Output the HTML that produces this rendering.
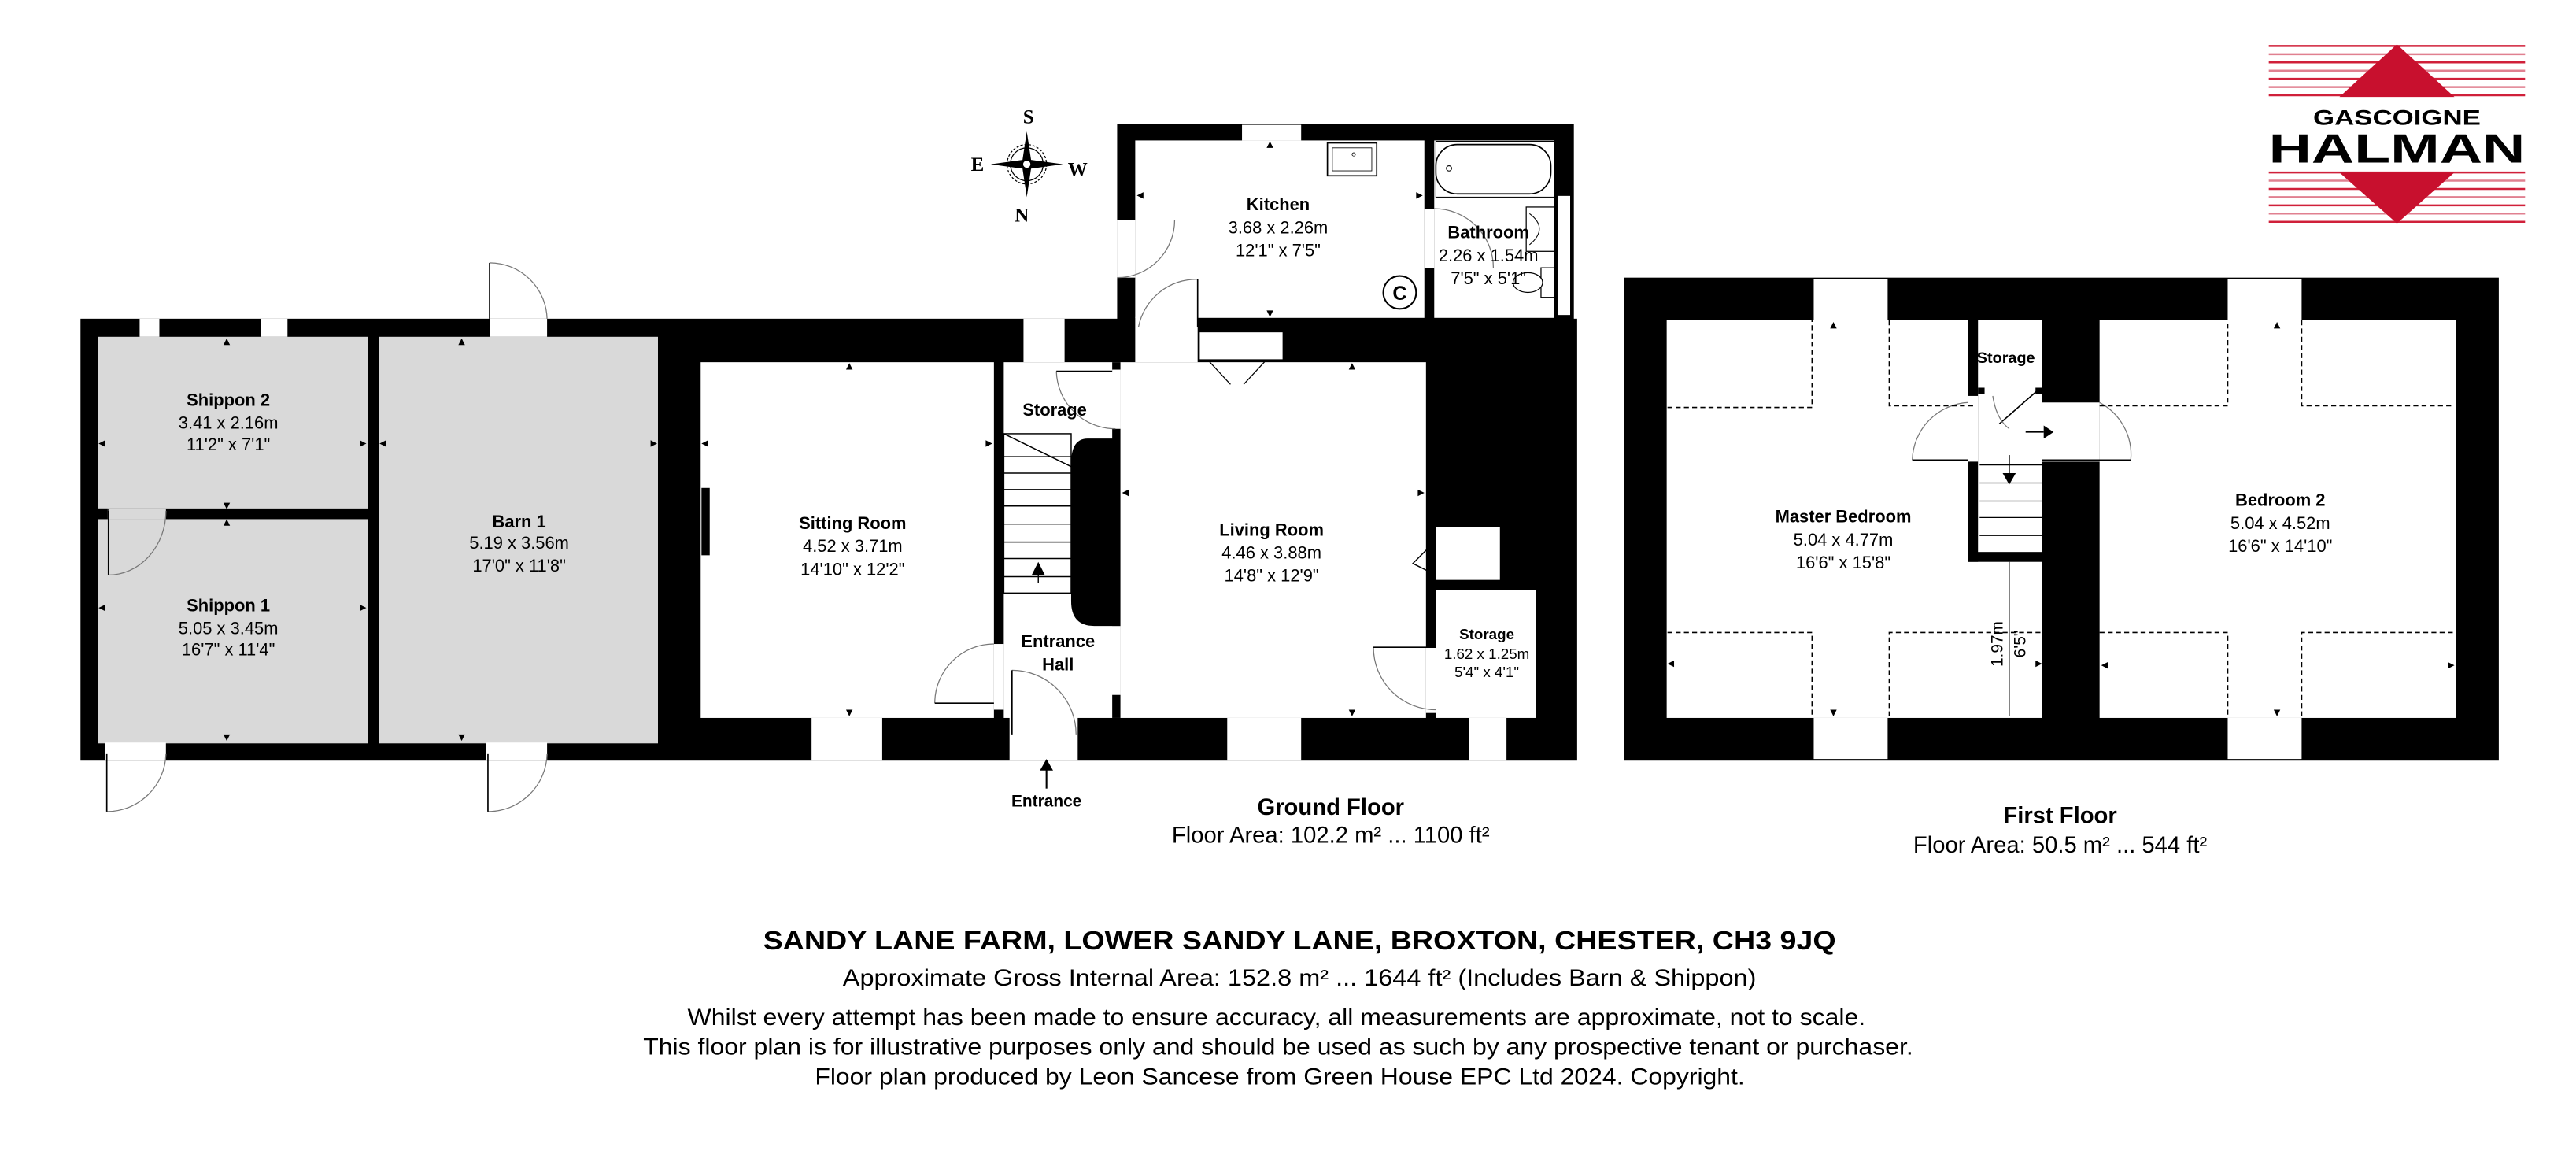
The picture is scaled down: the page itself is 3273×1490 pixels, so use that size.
<!DOCTYPE html>
<html><head><meta charset="utf-8"><style>
html,body{margin:0;padding:0;background:#fff;}
svg{display:block;}
text{font-family:"Liberation Sans",Arial,sans-serif;fill:#000;}
.n{font-weight:bold;font-size:10.5px;text-anchor:middle;}
.d{font-size:10.5px;text-anchor:middle;}
.s{font-size:9px;text-anchor:middle;}
.cp{font-family:"Liberation Serif",serif;font-weight:bold;font-size:12px;text-anchor:middle;}
.arc{fill:none;stroke:#777;stroke-width:0.6;}
.dash{fill:none;stroke:#000;stroke-width:0.8;stroke-dasharray:3,2;}
</style></head><body>
<svg width="3273" height="1490" viewBox="0 0 1568 714" preserveAspectRatio="none" xmlns="http://www.w3.org/2000/svg">
<rect width="1568" height="714" fill="#fff"/>

<!-- ===== GROUND FLOOR ===== -->
<rect x="49" y="194" width="911" height="269" fill="#000"/>
<rect x="680" y="75.5" width="278" height="125" fill="#000"/>
<rect x="59.5" y="205" width="164.5" height="104.5" fill="#d9d9d9"/>
<rect x="59.5" y="316" width="164.5" height="136.5" fill="#d9d9d9"/>
<rect x="230.5" y="205" width="170" height="247.5" fill="#d9d9d9"/>
<rect x="426.5" y="220.5" width="178.5" height="216.5" fill="#fff"/>
<rect x="427" y="297" width="5" height="41" fill="#000"/>
<rect x="611" y="220.5" width="71" height="216.5" fill="#fff"/>
<rect x="677" y="220.5" width="5" height="5" fill="#000"/>
<rect x="677" y="261" width="5" height="120" fill="#000"/>
<rect x="677" y="423" width="5" height="14" fill="#000"/>
<g stroke="#000" stroke-width="0.7" fill="none">
<rect x="611" y="264" width="41" height="97" fill="#fff"/>
<line x1="611" y1="278" x2="652" y2="278"/><line x1="611" y1="288" x2="652" y2="288"/>
<line x1="611" y1="298" x2="652" y2="298"/><line x1="611" y1="308" x2="652" y2="308"/>
<line x1="611" y1="319" x2="652" y2="319"/><line x1="611" y1="330" x2="652" y2="330"/>
<line x1="611" y1="340" x2="652" y2="340"/><line x1="611" y1="351" x2="652" y2="351"/>
<line x1="611" y1="264" x2="652" y2="284"/>
<line x1="632" y1="355" x2="632" y2="348"/>
</g>
<path d="M632 342 L628 350 L636 350 Z" fill="#000"/>
<path d="M662 267 L682 267 L682 381 L666 381 Q652 381 652 366 L652 282 Q652 267 662 267 Z" fill="#000"/>
<rect x="682" y="220.5" width="186" height="216.5" fill="#fff"/>
<rect x="730" y="202" width="51" height="17" fill="#fff" stroke="#000" stroke-width="0.6"/>
<path d="M736 220 L749 234 M757 234 L770 220" stroke="#000" stroke-width="0.6"/>
<rect x="874" y="321" width="39" height="32" fill="#fff"/>
<path d="M874 329 L860 343 L874 350" stroke="#000" stroke-width="0.7" fill="none"/>
<rect x="874" y="359" width="61" height="78" fill="#fff"/>
<rect x="868" y="394" width="6" height="40" fill="#fff"/>
<path class="arc" d="M836 394 A38 38 0 0 0 874 432"/>
<line x1="836" y1="394" x2="874" y2="394" stroke="#000" stroke-width="0.8"/>
<rect x="691" y="85.5" width="176" height="108" fill="#fff"/>
<rect x="873" y="85.5" width="73" height="108" fill="#fff"/>
<rect x="867" y="127" width="6" height="36" fill="#fff"/>
<path class="arc" d="M873 127 A36 36 0 0 1 909 163"/>
<rect x="948" y="119" width="8" height="73" fill="#fff" stroke="#000" stroke-width="0.5"/>
<rect x="756" y="76" width="36" height="9.5" fill="#fff"/>
<rect x="680" y="134" width="11" height="35" fill="#fff"/>
<path class="arc" d="M680 169 A35 35 0 0 0 715 134"/>
<rect x="691" y="193" width="38" height="27.5" fill="#fff"/>
<path class="arc" d="M693 199 A36 36 0 0 1 729 170 L729 199"/>
<line x1="729" y1="170" x2="729" y2="199" stroke="#000" stroke-width="0.8"/>
<rect x="808" y="87" width="30" height="20" fill="#fff" stroke="#000" stroke-width="0.8"/>
<rect x="811" y="90" width="24" height="14" fill="none" stroke="#000" stroke-width="0.4"/>
<circle cx="824" cy="94" r="1" fill="none" stroke="#000" stroke-width="0.4"/>
<rect x="874" y="88" width="70" height="30" rx="13" fill="#fff" stroke="#000" stroke-width="0.8"/>
<rect x="874" y="86" width="72" height="34" fill="none" stroke="#000" stroke-width="0.5"/>
<circle cx="882" cy="102.5" r="1.6" fill="none" stroke="#000" stroke-width="0.5"/>
<rect x="929" y="126" width="17" height="27" fill="#fff" stroke="#000" stroke-width="0.6"/>
<path d="M931 130 Q943 139 931 149" fill="none" stroke="#000" stroke-width="0.5"/>
<rect x="938" y="163" width="8" height="18" fill="#fff" stroke="#000" stroke-width="0.6"/>
<ellipse cx="930" cy="172" rx="9" ry="6" fill="#fff" stroke="#000" stroke-width="0.6"/>
<circle cx="852" cy="178" r="10" fill="#fff" stroke="#000" stroke-width="1"/>
<text x="852" y="182.5" font-size="12" font-weight="bold" text-anchor="middle">C</text>
<g fill="#fff">
<rect x="85" y="194" width="12" height="11"/>
<rect x="159" y="194" width="16" height="11"/>
<rect x="623" y="194" width="25" height="26.5"/>
<rect x="494" y="437" width="43" height="26"/>
<rect x="747" y="437" width="45" height="26"/>
<rect x="894" y="437" width="23" height="26"/>
<rect x="298" y="194" width="35" height="11"/>
<rect x="64" y="452" width="37" height="11"/>
<rect x="296" y="452" width="37" height="11"/>
<rect x="614.5" y="436" width="41.5" height="27"/>
<rect x="605" y="392" width="6" height="40"/>
<rect x="677" y="225" width="5" height="36"/>
</g>
<!-- shippon internal door -->
<rect x="59.5" y="309.5" width="6" height="7" fill="#d9d9d9"/>
<rect x="59.5" y="309.5" width="6" height="6.5" fill="#000"/>
<rect x="66" y="309.5" width="35" height="6.5" fill="#d9d9d9"/>
<line x1="66" y1="311" x2="66" y2="350" stroke="#000" stroke-width="0.8"/>
<path class="arc" d="M101 311 A35 39 0 0 1 66 350"/>
<path class="arc" d="M298 160 A35 35 0 0 1 333 194"/>
<line x1="298" y1="160" x2="298" y2="194" stroke="#000" stroke-width="0.8"/>
<path class="arc" d="M101 459 A36 36 0 0 1 65 494"/>
<line x1="65" y1="459" x2="65" y2="494" stroke="#000" stroke-width="0.8"/>
<path class="arc" d="M333 459 A36 36 0 0 1 297 494"/>
<line x1="297" y1="459" x2="297" y2="494" stroke="#000" stroke-width="0.8"/>
<path class="arc" d="M605 392 A36 36 0 0 0 569 428"/>
<line x1="569" y1="428" x2="605" y2="428" stroke="#000" stroke-width="0.8"/>
<path class="arc" d="M616 408 A39 39 0 0 1 655 447"/>
<line x1="616" y1="408" x2="616" y2="447" stroke="#000" stroke-width="0.8"/>
<path class="arc" d="M643 226 A36 36 0 0 0 679 261"/>
<line x1="643" y1="226" x2="677" y2="226" stroke="#000" stroke-width="0.8"/>
<line x1="637" y1="468" x2="637" y2="480" stroke="#000" stroke-width="1"/>
<path d="M637 462 L633 469 L641 469 Z" fill="#000"/>
<g transform="translate(625,100)">
<circle r="12" fill="none" stroke="#000" stroke-width="0.6" stroke-dasharray="1.5,1"/>
<circle r="10" fill="none" stroke="#000" stroke-width="0.6"/>
<path d="M0 -20 L3 0 L0 20 L-3 0 Z M-22 0 L0 -3 L22 0 L0 3 Z" fill="#000"/>
<circle r="2.5" fill="#fff" stroke="#000" stroke-width="0.6"/>
<text class="cp" x="1" y="-25">S</text>
<text class="cp" x="-30" y="4">E</text>
<text class="cp" x="31" y="7">W</text>
<text class="cp" x="-3" y="35">N</text>
</g>
<g fill="#000">
<path d="M138 206 l-2 4 h4z M138 451 l-2 -4 h4z M138 310 l-2 -4 h4z M138 316 l-2 4 h4z"/>
<path d="M60 270 l4 -2 v4z M223 270 l-4 -2 v4z M60 370 l4 -2 v4z M223 370 l-4 -2 v4z"/>
<path d="M281 206 l-2 4 h4z M281 451 l-2 -4 h4z M231 270 l4 -2 v4z M400 270 l-4 -2 v4z"/>
<path d="M517 221 l-2 4 h4z M517 436 l-2 -4 h4z M427 270 l4 -2 v4z M604 270 l-4 -2 v4z"/>
<path d="M823 221 l-2 4 h4z M823 436 l-2 -4 h4z M683 300 l4 -2 v4z M867 300 l-4 -2 v4z"/>
<path d="M773 86 l-2 4 h4z M773 193 l-2 -4 h4z M692 119 l4 -2 v4z M866 119 l-4 -2 v4z"/>
</g>
<text class="n" x="139" y="247">Shippon 2</text>
<text class="d" x="139" y="261">3.41 x 2.16m</text>
<text class="d" x="139" y="274">11'2" x 7'1"</text>
<text class="n" x="139" y="372">Shippon 1</text>
<text class="d" x="139" y="386">5.05 x 3.45m</text>
<text class="d" x="139" y="399">16'7" x 11'4"</text>
<text class="n" x="316" y="321">Barn 1</text>
<text class="d" x="316" y="334">5.19 x 3.56m</text>
<text class="d" x="316" y="348">17'0" x 11'8"</text>
<text class="n" x="519" y="322">Sitting Room</text>
<text class="d" x="519" y="336">4.52 x 3.71m</text>
<text class="d" x="519" y="350">14'10" x 12'2"</text>
<text class="n" x="774" y="326">Living Room</text>
<text class="d" x="774" y="340">4.46 x 3.88m</text>
<text class="d" x="774" y="354">14'8" x 12'9"</text>
<text class="n" x="778" y="128">Kitchen</text>
<text class="d" x="778" y="142">3.68 x 2.26m</text>
<text class="d" x="778" y="156">12'1" x 7'5"</text>
<text class="n" x="906" y="145">Bathroom</text>
<text class="d" x="906" y="159">2.26 x 1.54m</text>
<text class="d" x="906" y="173">7'5" x 5'1"</text>
<text class="n" x="642" y="253">Storage</text>
<text class="n" x="644" y="394">Entrance</text>
<text class="n" x="644" y="408">Hall</text>
<text class="n" x="905" y="389" style="font-size:9px">Storage</text>
<text class="s" x="905" y="401">1.62 x 1.25m</text>
<text class="s" x="905" y="412">5'4" x 4'1"</text>
<text class="n" x="637" y="491" style="font-size:10px">Entrance</text>
<text x="810" y="496" font-size="14" font-weight="bold" text-anchor="middle">Ground Floor</text>
<text x="810" y="513" font-size="14" text-anchor="middle">Floor Area: 102.2 m² ... 1100 ft²</text>

<!-- ===== FIRST FLOOR ===== -->
<rect x="988.5" y="169" width="532.5" height="294" fill="#000"/>
<rect x="1014.5" y="195" width="228.5" height="242" fill="#fff"/>
<rect x="1278" y="195" width="217" height="242" fill="#fff"/>
<rect x="1198" y="195" width="6" height="147" fill="#000"/>
<rect x="1198" y="336" width="45" height="6" fill="#000"/>
<rect x="1243" y="245" width="35" height="36" fill="#fff"/>
<rect x="1198" y="241" width="6" height="40" fill="#fff"/>
<rect x="1204" y="236" width="4" height="4" fill="#000"/><rect x="1239" y="236" width="4" height="4" fill="#000"/>
<g stroke="#000" stroke-width="0.6" fill="none">
<line x1="1205" y1="283" x2="1243" y2="283"/><line x1="1205" y1="294" x2="1243" y2="294"/>
<line x1="1205" y1="305" x2="1243" y2="305"/><line x1="1205" y1="315" x2="1243" y2="315"/>
<line x1="1205" y1="326" x2="1243" y2="326"/>
<line x1="1217" y1="258" x2="1241" y2="237" stroke-width="0.8"/>
<line x1="1233" y1="263" x2="1244" y2="263" stroke-width="0.8"/>
<line x1="1223" y1="277" x2="1223" y2="289" stroke-width="0.8"/>
<line x1="1223" y1="342" x2="1223" y2="436"/>
</g>
<path d="M1244 259 L1250 263 L1244 267 Z M1219 288 L1227 288 L1223 295 Z" fill="#000"/>
<path class="arc" d="M1164 280 A36 36 0 0 1 1198 245"/>
<line x1="1164" y1="280" x2="1198" y2="280" stroke="#000" stroke-width="0.8"/>
<path class="arc" d="M1213 241 Q1215 255 1223 261"/>
<path class="arc" d="M1278 245 A36 36 0 0 1 1297 280"/>
<line x1="1243" y1="280" x2="1297" y2="280" stroke="#000" stroke-width="0.8"/>
<text x="1219" y="392" font-size="10" text-anchor="middle" transform="rotate(-90 1219 392)">1.97m</text>
<text x="1233" y="392" font-size="10" text-anchor="middle" transform="rotate(-90 1233 392)">6'5"</text>
<g fill="#fff">
<rect x="1104" y="170" width="45" height="25"/>
<rect x="1356" y="170" width="45" height="25"/>
<rect x="1104" y="437" width="45" height="25"/>
<rect x="1356" y="437" width="45" height="25"/>
</g>
<g class="dash">
<path d="M1015 248 H1103 V195 M1150 195 V247 H1203 M1015 385 H1103 V436 M1150 436 V385 H1243"/>
<path d="M1278 247 H1356 V195 M1401 195 V247 H1494 M1278 385 H1356 V436 M1401 436 V385 H1494"/>
</g>
<g fill="#000">
<path d="M1116 196 l-2 4 h4z M1116 436 l-2 -4 h4z M1015 404 l4 -2 v4z M1243 404 l-4 -2 v4z"/>
<path d="M1386 196 l-2 4 h4z M1386 436 l-2 -4 h4z M1279 405 l4 -2 v4z M1494 405 l-4 -2 v4z"/>
</g>
<text class="n" x="1221" y="221" style="font-size:9.5px">Storage</text>
<text class="n" x="1122" y="318">Master Bedroom</text>
<text class="d" x="1122" y="332">5.04 x 4.77m</text>
<text class="d" x="1122" y="346">16'6" x 15'8"</text>
<text class="n" x="1388" y="308">Bedroom 2</text>
<text class="d" x="1388" y="322">5.04 x 4.52m</text>
<text class="d" x="1388" y="336">16'6" x 14'10"</text>
<text x="1254" y="501" font-size="14" font-weight="bold" text-anchor="middle">First Floor</text>
<text x="1254" y="519" font-size="14" text-anchor="middle">Floor Area: 50.5 m² ... 544 ft²</text>

<!-- ===== LOGO ===== -->
<g>
<g stroke="#d0203a" stroke-width="1.2">
<line x1="1381" y1="28" x2="1537" y2="28"/><line x1="1381" y1="33" x2="1537" y2="33" stroke="#e08090"/>
<line x1="1381" y1="38" x2="1537" y2="38"/><line x1="1381" y1="43" x2="1537" y2="43" stroke="#e08090"/>
<line x1="1381" y1="48" x2="1537" y2="48"/><line x1="1381" y1="53" x2="1537" y2="53" stroke="#e08090"/>
<line x1="1381" y1="58" x2="1537" y2="58"/>
<line x1="1381" y1="105" x2="1537" y2="105"/><line x1="1381" y1="110" x2="1537" y2="110" stroke="#e08090"/>
<line x1="1381" y1="115" x2="1537" y2="115"/><line x1="1381" y1="120" x2="1537" y2="120" stroke="#e08090"/>
<line x1="1381" y1="125" x2="1537" y2="125"/><line x1="1381" y1="130" x2="1537" y2="130" stroke="#e08090"/>
<line x1="1381" y1="135" x2="1537" y2="135"/>
</g>
<path d="M1459 27 L1494 59 L1424 59 Z" fill="#c8102e"/>
<path d="M1424 105 L1494 105 L1459 136 Z" fill="#c8102e"/>
<text x="1459" y="76" font-size="13" font-weight="bold" text-anchor="middle" textLength="102" lengthAdjust="spacingAndGlyphs" fill="#231f20">GASCOIGNE</text>
<text x="1459" y="99" font-size="25" font-weight="bold" text-anchor="middle" textLength="156" lengthAdjust="spacingAndGlyphs" fill="#231f20">HALMAN</text>
</g>

<!-- ===== FOOTER ===== -->
<text x="791" y="578" font-size="16" font-weight="bold" text-anchor="middle" textLength="653" lengthAdjust="spacingAndGlyphs">SANDY LANE FARM, LOWER SANDY LANE, BROXTON, CHESTER, CH3 9JQ</text>
<text x="791" y="600" font-size="14" text-anchor="middle" textLength="556" lengthAdjust="spacingAndGlyphs">Approximate Gross Internal Area: 152.8 m² ... 1644 ft² (Includes Barn &amp; Shippon)</text>
<text x="777" y="624" font-size="14" text-anchor="middle" textLength="717" lengthAdjust="spacingAndGlyphs">Whilst every attempt has been made to ensure accuracy, all measurements are approximate, not to scale.</text>
<text x="778" y="642" font-size="14" text-anchor="middle" textLength="773" lengthAdjust="spacingAndGlyphs">This floor plan is for illustrative purposes only and should be used as such by any prospective tenant or purchaser.</text>
<text x="779" y="660" font-size="14" text-anchor="middle" textLength="566" lengthAdjust="spacingAndGlyphs">Floor plan produced by Leon Sancese from Green House EPC Ltd 2024. Copyright.</text>
</svg>
</body></html>
